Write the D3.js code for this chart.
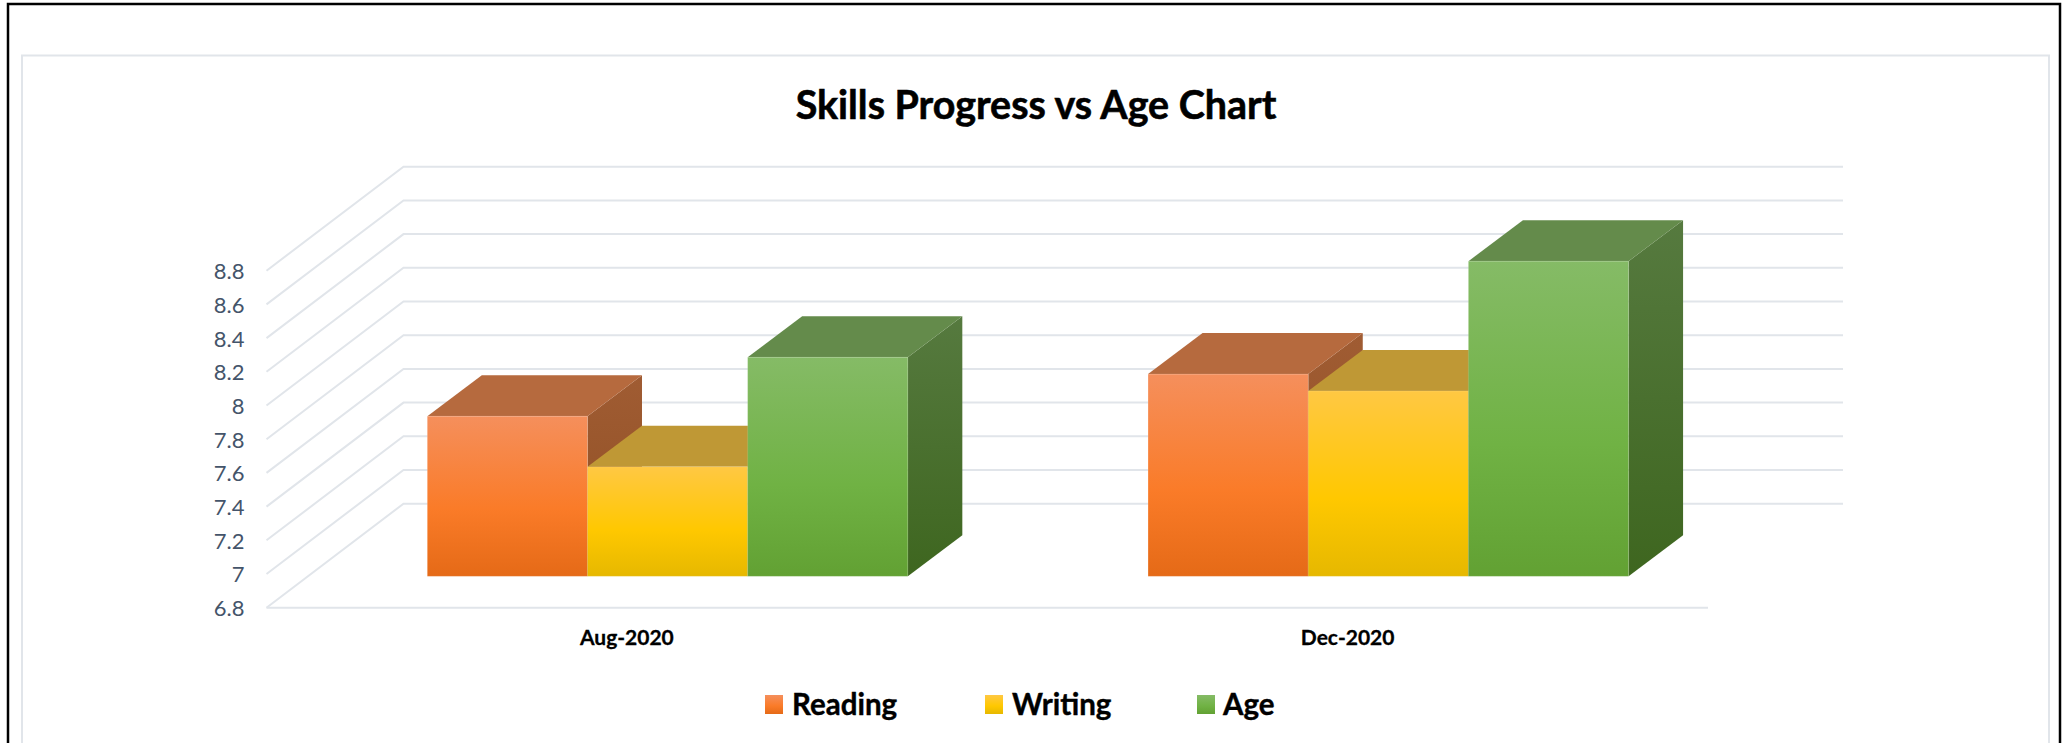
<!DOCTYPE html>
<html lang="en">
<head>
    <title>Skills Progress vs Age Chart</title>
    <script src="https://d3js.org/d3.v7.min.js"></script>
    <style>
        body { margin: 0; background: #fff; overflow: hidden; }
        text { font-family: Lato, sans-serif; }
    </style>
</head>
<body>
<script>

// values
const categories = ["Aug-2020", "Dec-2020"];
const seriesNames = ["Reading", "Writing", "Age"];
const readingValues = [7.75, 8.0];
const writingValues = [7.45, 7.9];
const ageValues = [8.1, 8.67];
const tickValues = [6.8, 7, 7.2, 7.4, 7.6, 7.8, 8, 8.2, 8.4, 8.6, 8.8];

const seriesValues = [readingValues, writingValues, ageValues];

const width = 2067, height = 743;

// colours per series: gradient top / middle / bottom, roof, side top / side bottom
const palette = [
    { top: "#f58f5c", mid: "#fa7b28", bottom: "#e56a17", roof: "#b66a3e", sideA: "#a05c33", sideB: "#8f4f22" },
    { top: "#ffc843", mid: "#ffc800", bottom: "#e6b800", roof: "#bf9835", sideA: "#a8842a", sideB: "#96761f" },
    { top: "#85bb66", mid: "#70b244", bottom: "#62a133", roof: "#648b4b", sideA: "#567a3f", sideB: "#3e661f" }
];

const svg = d3.select("body").append("svg")
    .attr("width", width)
    .attr("height", height);

const defs = svg.append("defs");
palette.forEach(function (c, i) {
    const front = defs.append("linearGradient").attr("id", "front" + i)
        .attr("x1", 0).attr("y1", 0).attr("x2", 0).attr("y2", 1);
    front.append("stop").attr("offset", "0%").attr("stop-color", c.top);
    front.append("stop").attr("offset", "58%").attr("stop-color", c.mid);
    front.append("stop").attr("offset", "100%").attr("stop-color", c.bottom);

    const side = defs.append("linearGradient").attr("id", "side" + i)
        .attr("x1", 0).attr("y1", 0).attr("x2", 0).attr("y2", 1);
    side.append("stop").attr("offset", "0%").attr("stop-color", c.sideA);
    side.append("stop").attr("offset", "100%").attr("stop-color", c.sideB);
});

// outer black border and the light chart frame, both run off the bottom
svg.append("rect").attr("x", 8).attr("y", 4).attr("width", 2052).attr("height", 760)
    .attr("fill", "#fff").attr("stroke", "#000").attr("stroke-width", 2.5);
svg.append("rect").attr("x", 22).attr("y", 55.5).attr("width", 2027).attr("height", 720)
    .attr("fill", "#fff").attr("stroke", "#e1e5ea").attr("stroke-width", 2);

svg.append("text")
    .attr("x", 1036).attr("y", 119)
    .attr("text-anchor", "middle")
    .attr("font-size", 39.4).attr("font-weight", 700).attr("fill", "#000")
    .attr("stroke", "#000").attr("stroke-width", 0.6)
    .text("Skills Progress vs Age Chart");

// scales on the front edge of the floor
const floorLeft = 266.5, floorRight = 1708;
const wallDx = 137, wallDy = 104;   // depth of the 3d box
const barDx = 54.5, barDy = 41;     // depth of a bar
const planeDx = 40.7, planeDy = 31.4; // where the bars' front faces sit

const y = d3.scaleLinear().domain([6.8, 8.8]).range([607.7, 270.7]);
const x = d3.scaleBand().domain(categories).range([floorLeft, floorRight]);
const xSeries = d3.scaleBand().domain(seriesNames).range([0, x.bandwidth() * 2 / 3]);

// gridlines: up the left wall then along the back wall
svg.append("g").selectAll("path")
    .data(tickValues)
    .enter().append("path")
    .attr("fill", "none")
    .attr("stroke", "#e1e5ea")
    .attr("stroke-width", 2)
    .attr("d", function (d) {
        return d3.line()([
            [floorLeft, y(d)],
            [floorLeft + wallDx, y(d) - wallDy],
            [floorRight + wallDx - 2, y(d) - wallDy]
        ]);
    });

// front edge of the floor
svg.append("line")
    .attr("x1", floorLeft).attr("x2", floorRight)
    .attr("y1", y(6.8)).attr("y2", y(6.8))
    .attr("stroke", "#e1e5ea").attr("stroke-width", 2);

// axes
const yAxis = svg.append("g")
    .attr("transform", "translate(" + floorLeft + ",0)")
    .call(d3.axisLeft(y).tickValues(tickValues).tickFormat(function (d) { return d; }).tickSize(0).tickPadding(22));
yAxis.select(".domain").remove();
yAxis.selectAll("text").attr("font-size", 22).attr("fill", "#44546a").attr("dy", "0.36em").style("font-family", "Lato, sans-serif");

const xAxis = svg.append("g")
    .attr("transform", "translate(0," + y(6.8) + ")")
    .call(d3.axisBottom(x).tickSize(0).tickPadding(22));
xAxis.select(".domain").remove();
xAxis.selectAll("text").attr("font-size", 21).attr("font-weight", 700).attr("fill", "#000")
    .attr("stroke", "#000").attr("stroke-width", 0.3).style("font-family", "Lato, sans-serif");

// bars, left to right so that each one covers the side of the one before
const barBase = y(6.8) - planeDy;
const bars = [];
categories.forEach(function (cat, c) {
    seriesNames.forEach(function (name, s) {
        bars.push({ cat: cat, name: name, s: s, value: seriesValues[s][c] });
    });
});

const barG = svg.append("g").selectAll("g")
    .data(bars)
    .enter().append("g")
    .attr("transform", function (d) {
        const groupLeft = x(d.cat) + x.bandwidth() / 6 + planeDx;
        return "translate(" + (groupLeft + xSeries(d.name)) + ",0)";
    });

// right side
barG.append("path")
    .attr("fill", function (d) { return "url(#side" + d.s + ")"; })
    .attr("d", function (d) {
        const w = xSeries.bandwidth(), t = y(d.value) - planeDy;
        return d3.line()([[w, t], [w + barDx, t - barDy], [w + barDx, barBase - barDy], [w, barBase]]) + "Z";
    });

// roof
barG.append("path")
    .attr("fill", function (d) { return palette[d.s].roof; })
    .attr("d", function (d) {
        const w = xSeries.bandwidth(), t = y(d.value) - planeDy;
        return d3.line()([[0, t], [barDx, t - barDy], [w + barDx, t - barDy], [w, t]]) + "Z";
    });

// front face
barG.append("rect")
    .attr("x", 0)
    .attr("y", function (d) { return y(d.value) - planeDy; })
    .attr("width", xSeries.bandwidth())
    .attr("height", function (d) { return y(6.8) - y(d.value); })
    .attr("fill", function (d) { return "url(#front" + d.s + ")"; })
    .attr("stroke", "#fff").attr("stroke-opacity", 0.12).attr("stroke-width", 1);

// legend
const legendSwatchX = [765, 985, 1197];
const legend = svg.append("g").selectAll("g")
    .data(seriesNames)
    .enter().append("g")
    .attr("transform", function (d, i) { return "translate(" + legendSwatchX[i] + ",695)"; });

legend.append("rect")
    .attr("width", 18).attr("height", 19)
    .attr("fill", function (d, i) { return "url(#front" + i + ")"; });

legend.append("text")
    .attr("x", function (d, i) { return i == 2 ? 26 : 27; })
    .attr("y", 20)
    .attr("font-size", 29.5).attr("font-weight", 700).attr("fill", "#000")
    .attr("stroke", "#000").attr("stroke-width", 0.4)
    .text(function (d) { return d; });

</script>
</body>
</html>
